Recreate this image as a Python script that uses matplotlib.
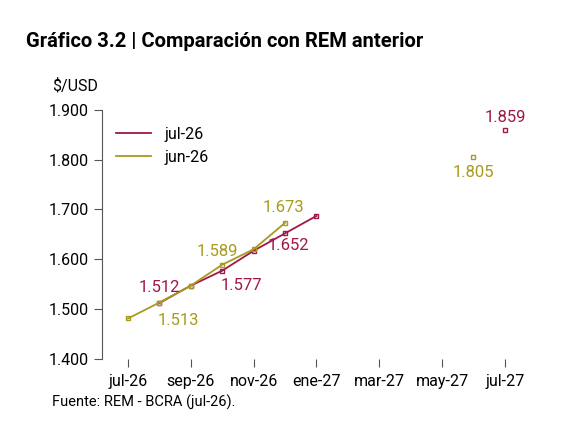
import matplotlib.pyplot as plt

plt.rcParams['font.family'] = ['Roboto', 'DejaVu Sans']

ticks = ['jul-26', 'sep-26', 'nov-26', 'ene-27', 'mar-27', 'may-27', 'jul-27']
jul_x = [1, 2, 3, 4, 5, 6]
jul_y = [1512, 1547, 1577, 1617, 1652, 1687]
jun_x = [0, 1, 2, 3, 4, 5]
jun_y = [1481, 1513, 1547, 1589, 1620, 1673]
jun_far = (11, 1805)
jul_far = (12, 1859)

RED = '#a0174a'
OLIVE = '#a89a1c'

fig = plt.figure(figsize=(5.79, 4.43), dpi=100)
ax = fig.add_axes([0.176, 0.19, 0.696, 0.562])

mk = dict(marker='s', ms=3.5, mfc='none', mew=1, clip_on=False)
ax.plot(jul_x, jul_y, color=RED, lw=1.3, label='jul-26', **mk)
ax.plot(jun_x, jun_y, color=OLIVE, lw=1.3, label='jun-26', **mk)
ax.plot(*jul_far, color=RED, ls='none', **mk)
ax.plot(*jun_far, color=OLIVE, ls='none', **mk)

def fmt(v):
    return f'{v / 1000:.3f}'

lab = dict(fontsize=12)
ax.text(1, 1528, fmt(1512), color=RED, ha='center', va='bottom', **lab)
ax.text(1.6, 1492, fmt(1513), color=OLIVE, ha='center', va='top', **lab)
ax.text(3.6, 1562, fmt(1577), color=RED, ha='center', va='top', **lab)
ax.text(2.85, 1600, fmt(1589), color=OLIVE, ha='center', va='bottom', **lab)
ax.text(5.1, 1642, fmt(1652), color=RED, ha='center', va='top', **lab)
ax.text(4.95, 1688, fmt(1673), color=OLIVE, ha='center', va='bottom', **lab)
ax.text(11, 1790, fmt(1805), color=OLIVE, ha='center', va='top', **lab)
ax.text(12, 1870, fmt(1859), color=RED, ha='center', va='bottom', **lab)

ax.set_xlim(-0.83, 12)
ax.set_ylim(1400, 1900)
ax.set_xticks(range(0, 13, 2))
ax.set_xticklabels(ticks)
yt = range(1400, 1901, 100)
ax.set_yticks(list(yt))
ax.set_yticklabels([fmt(v) for v in yt])
ax.tick_params(axis='both', labelsize=11.5, color='#555555', length=6)
ax.tick_params(axis='x', pad=5)
for s in ['top', 'right', 'bottom']:
    ax.spines[s].set_visible(False)
ax.spines['left'].set_color('#555555')

ax.legend(loc='upper left', bbox_to_anchor=(0.0, 0.99), frameon=False, fontsize=11.5,
          handlelength=2.2, markerscale=0)

fig.text(0.045, 0.895, 'Gráfico 3.2 | Comparación con REM anterior', fontsize=14.5, fontweight='bold')
fig.text(0.09, 0.795, '$/USD', fontsize=11.5)
fig.text(0.09, 0.082, 'Fuente: REM - BCRA (jul-26).', fontsize=10.5)

fig.savefig('out.png')
